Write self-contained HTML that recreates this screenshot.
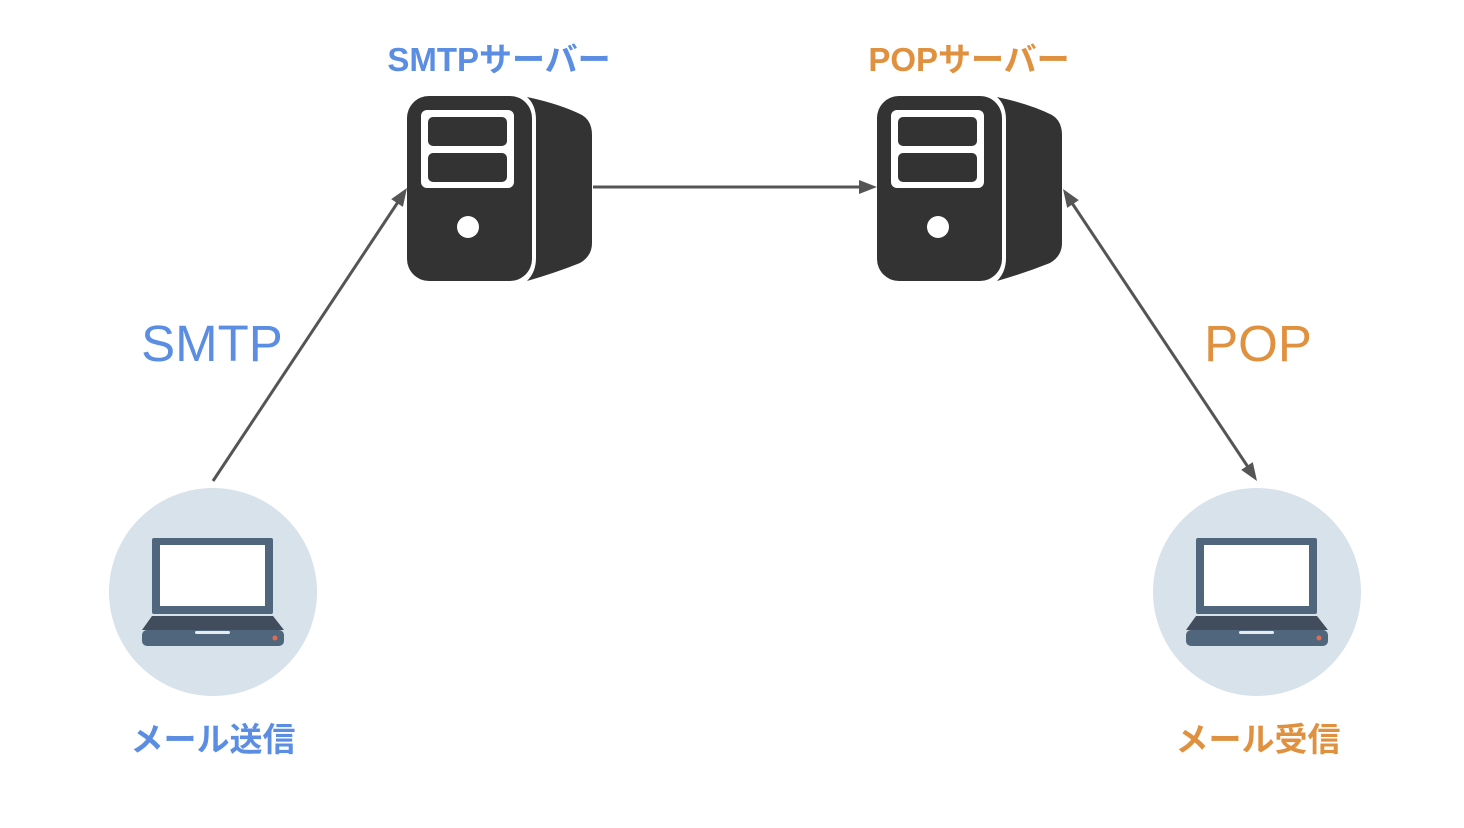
<!DOCTYPE html>
<html><head><meta charset="utf-8"><style>
html,body{margin:0;padding:0;background:#fff;width:1464px;height:828px;overflow:hidden}
text{font-family:"Liberation Sans","Noto Sans CJK JP",sans-serif}
</style></head><body>
<svg width="1464" height="828" viewBox="0 0 1464 828" xmlns="http://www.w3.org/2000/svg">
<defs>
<g id="srv">
<path d="M527,97 Q560,104 582,115 Q592,121 592,135 L592,243 Q592,256 580,263 Q555,273 527,281 Q536,272 536,258 L536,120 Q536,105 527,97 z" fill="#333"/>
<rect x="407" y="96" width="125" height="185" rx="22" fill="#333"/>
<rect x="421" y="110" width="93" height="78" rx="6" fill="#fff"/>
<rect x="428" y="117" width="79" height="29" rx="5" fill="#333"/>
<rect x="428" y="153" width="79" height="29" rx="5" fill="#333"/>
<circle cx="468" cy="227" r="11" fill="#fff"/>
</g>
<g id="lap">
<circle cx="213" cy="592" r="104" fill="#d8e2ea"/>
<rect x="152" y="538" width="121" height="76" rx="2" fill="#50667c"/>
<rect x="160" y="545" width="105" height="61" fill="#fff"/>
<path d="M152,616 L273,616 L284,630 L142,630 z" fill="#414d5c"/>
<rect x="142" y="630" width="142" height="16" rx="5" fill="#50667c"/>
<rect x="195" y="631" width="35" height="3" rx="1.5" fill="#e6ebef"/>
<circle cx="275" cy="638" r="2.5" fill="#e06a55"/>
</g>
</defs>
<use href="#srv"/>
<use href="#srv" transform="translate(470,0)"/>
<use href="#lap"/>
<use href="#lap" transform="translate(1044,0)"/>
<g stroke="#555" stroke-width="3">
<line x1="213" y1="481" x2="398" y2="202"/>
<line x1="593" y1="187" x2="862" y2="187"/>
<line x1="1072" y1="203" x2="1248" y2="467"/>
</g>
<g fill="#555">
<polygon points="407,188 402.9,206.9 391.2,199.1"/>
<polygon points="877,187 859,180 859,194"/>
<polygon points="1257,481 1241.2,469.9 1252.8,462.1"/>
<polygon points="1063,189 1067.2,207.9 1078.8,200.1"/>
</g>
<g font-weight="bold">
<text x="499" y="71" font-size="33" fill="#5b8ee2" text-anchor="middle">SMTPサーバー</text>
<text x="969" y="71" font-size="33" fill="#e0913f" text-anchor="middle">POPサーバー</text>
<text x="212" y="361" font-size="51" fill="#5b8ee2" text-anchor="middle" font-weight="normal">SMTP</text>
<text x="1258" y="361" font-size="51" fill="#e0913f" text-anchor="middle" font-weight="normal">POP</text>
<text x="213" y="751" font-size="33" fill="#5b8ee2" text-anchor="middle">メール送信</text>
<text x="1258" y="751" font-size="33" fill="#e0913f" text-anchor="middle">メール受信</text>
</g>
</svg>
</body></html>
